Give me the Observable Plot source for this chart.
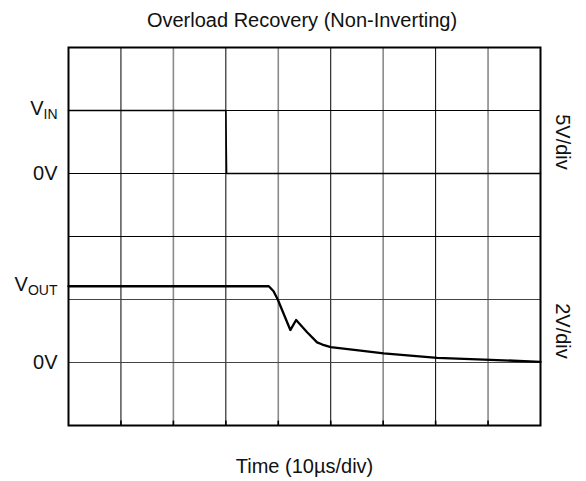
<!DOCTYPE html>
<html><head><meta charset="utf-8">
<script src="https://cdn.jsdelivr.net/npm/d3@7"></script>
<script src="https://cdn.jsdelivr.net/npm/@observablehq/plot@0.6"></script>
<style>
body{margin:0;background:#fff;font-family:"Liberation Sans",Arial,sans-serif;}
#title{height:40px;line-height:40px;font-size:20px;text-align:center;padding-left:18px;width:568px;color:#111;}
</style></head><body>
<div id="title">Overload Recovery (Non-Inverting)</div>
<div id="chart"></div>
<script>
// Input channel (5 V/div), time in µs (10 µs/div)
const vinTimeUs = [0, 30.0, 30.15, 90];
const vinVolts  = [5, 5, 0, 0];
// Output channel (2 V/div)
const voutTimeUs = [0, 38.2, 39.1, 39.9, 42.3, 43.4, 45.5, 47.4, 48.4, 50.0, 55.7, 60.1, 70.3, 80.5, 90];
const voutVolts  = [2.42, 2.42, 2.26, 2.0, 1.03, 1.35, 0.96, 0.64, 0.57, 0.49, 0.38, 0.29, 0.15, 0.086, 0.02];
// channel setup: zero level (division), volts per division
const channelNames = ["V_IN", "V_OUT"];
const channelZeroDiv = [4, 1];
const channelVoltsPerDiv = [5, 2];
const channelScaleLabels = ["5V/div", "2V/div"];
// grid
const timeGridUs = [10, 20, 30, 40, 50, 60, 70, 80];
const divGrid = [1, 2, 3, 4, 5];
const xLabel = "Time (10µs/div)";

const toDiv = (ch, v) => channelZeroDiv[ch] + v / channelVoltsPerDiv[ch];
const vin = vinTimeUs.map((t, i) => ({t, y: toDiv(0, vinVolts[i])}));
const vout = voutTimeUs.map((t, i) => ({t, y: toDiv(1, voutVolts[i])}));

const leftLabels = [
  {text: channelNames[0], y: toDiv(0, vinVolts[0])},
  {text: "0V", y: channelZeroDiv[0]},
  {text: channelNames[1], y: toDiv(1, voutVolts[0])},
  {text: "0V", y: channelZeroDiv[1]}
];
const rightLabels = channelScaleLabels.map((text, i) => ({text, y: channelZeroDiv[i] + 0.5}));

const plot = Plot.plot({
  width: 586, height: 441,
  marginLeft: 68, marginRight: 46, marginTop: 7, marginBottom: 56,
  style: {fontFamily: "Liberation Sans, Arial, sans-serif", background: "#fff", color: "#111"},
  x: {domain: [0, 90], axis: null},
  y: {domain: [0, 6], axis: null},
  marks: [
    Plot.ruleX(timeGridUs.filter(t => (t / 10) % 2 === 0), {stroke: "#8a8a8a", strokeWidth: 1.6}),
    Plot.ruleX(timeGridUs.filter(t => (t / 10) % 2 === 1), {stroke: "#000", strokeWidth: 1}),
    Plot.ruleY(divGrid.filter(d => d >= 3), {stroke: "#000", strokeWidth: 1}),
    Plot.ruleY(divGrid.filter(d => d < 3), {stroke: "#444", strokeWidth: 1}),
    Plot.ruleX(timeGridUs, {y1: 0, y2: 0.07, stroke: "#000", strokeWidth: 1.6}),
    Plot.frame({stroke: "#000", strokeWidth: 2}),
    Plot.line(vin, {x: "t", y: "y", stroke: "#000", strokeWidth: 1.5}),
    Plot.line(vout, {x: "t", y: "y", stroke: "#000", strokeWidth: 2.3, strokeLinejoin: "round"}),
    Plot.text(leftLabels, {x: () => 0, y: "y", text: "text", textAnchor: "end", dx: -11, fontSize: 20, fill: "#111"}),
    Plot.text(rightLabels, {x: () => 90, y: "y", text: "text", rotate: 90, dx: 22, fontSize: 20, fill: "#111"}),
    Plot.text([xLabel], {frameAnchor: "bottom", lineAnchor: "bottom", dy: 47, fontSize: 20, fill: "#111"})
  ]
});
// subscripts
plot.querySelectorAll("text").forEach(el => {
  const s = el.textContent;
  if (s.includes("_")) {
    const [main, sub] = s.split("_");
    el.textContent = "";
    const ns = "http://www.w3.org/2000/svg";
    const a = document.createElementNS(ns, "tspan");
    a.textContent = main;
    a.setAttribute("dy", "-2");
    const b = document.createElementNS(ns, "tspan");
    b.textContent = sub;
    b.setAttribute("font-size", "14");
    b.setAttribute("dy", "4");
    el.appendChild(a); el.appendChild(b);
  }
});
document.getElementById("chart").appendChild(plot);
</script>
</body></html>
